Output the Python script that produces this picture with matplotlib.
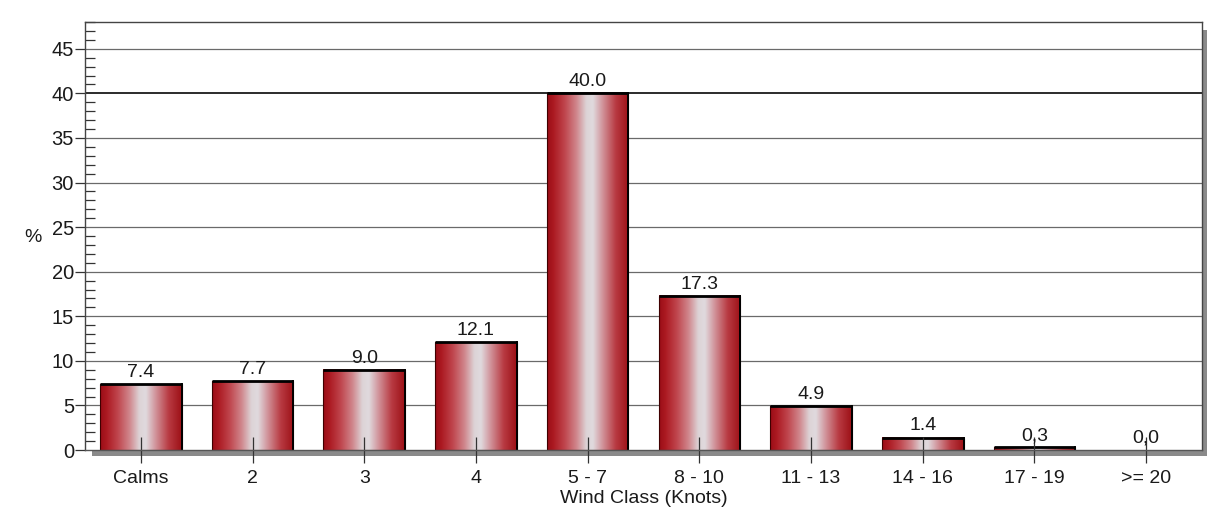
import numpy as np
import matplotlib
matplotlib.use("Agg")
import matplotlib.pyplot as plt
from matplotlib.colors import LinearSegmentedColormap
from matplotlib.patches import Rectangle
from matplotlib.ticker import MultipleLocator

plt.rcParams['font.family'] = ['Liberation Sans', 'DejaVu Sans']

categories = ["Calms", "2", "3", "4", "5 - 7", "8 - 10", "11 - 13", "14 - 16", "17 - 19", ">= 20"]
values = [7.4, 7.7, 9.0, 12.1, 40.0, 17.3, 4.9, 1.4, 0.3, 0.0]
value_labels = ["7.4", "7.7", "9.0", "12.1", "40.0", "17.3", "4.9", "1.4", "0,3", "0,0"]

W, H = 1212, 518
fig = plt.figure(figsize=(W / 100, H / 100), dpi=100)
fig.patch.set_facecolor("white")

L, R, T, B = 85, 1202, 22, 450
ax = fig.add_axes([L / W, 1 - B / H, (R - L) / W, (B - T) / H])
ax.set_facecolor("white")
ax.set_zorder(2)

# drop shadow of plot frame
shadow = Rectangle(((L + 7) / W, 1 - (B + 6) / H), (R + 5 - L - 7) / W, (B + 6 - T - 8) / H,
                   transform=fig.transFigure, facecolor="#8a8a8a", edgecolor="none", zorder=-5)
fig.patches.append(shadow)

x = np.arange(len(categories))
bw = 0.73
ax.set_xlim(-0.5, len(categories) - 0.5)
ax.set_ylim(0, 48)

# gridlines
for g in range(5, 50, 5):
    ax.axhline(g, color="#1a1a1a" if g == 40 else "#6a6a6a", lw=1.3 if g == 40 else 0.9, zorder=0.5)

cmap = LinearSegmentedColormap.from_list("barshade", [
    (0.0, "#9a0c16"),
    (0.08, "#ac1a22"),
    (0.22, "#c0474f"),
    (0.36, "#d0868c"),
    (0.48, "#ddd3d6"),
    (0.56, "#e0dade"),
    (0.68, "#d1939a"),
    (0.84, "#b83a42"),
    (1.0, "#9c1016"),
])
grad = np.linspace(0, 1, 256).reshape(1, -1)

for xi, v in zip(x, values):
    if v > 0:
        ax.imshow(grad, cmap=cmap, aspect="auto", extent=[xi - bw / 2, xi + bw / 2, 0, v],
                  zorder=1, interpolation="bicubic")
        ax.add_patch(Rectangle((xi - bw / 2, 0), bw, v, facecolor="none",
                               edgecolor="#400000", lw=0.8, zorder=1.2))
        ax.plot([xi - bw / 2, xi + bw / 2], [v, v], color="black", lw=2.0, zorder=1.3,
                solid_capstyle="butt")
        ax.plot([xi + bw / 2, xi + bw / 2], [0, v], color="black", lw=1.4, zorder=1.3)

for xi, v, lab in zip(x, values, value_labels):
    ax.text(xi, v + 0.35, lab, ha="center", va="bottom", fontsize=14, color="#1a1a1a", zorder=3)

ax.set_xticks(x)
ax.set_xticklabels(categories, fontsize=14, color="#1a1a1a")
ax.tick_params(axis="x", direction="inout", length=19, width=0.9, color="#333333", pad=5)

ax.yaxis.set_major_locator(MultipleLocator(5))
ax.yaxis.set_minor_locator(MultipleLocator(1))
ax.tick_params(axis="y", which="major", direction="out", length=7, width=0.9, color="#333333",
               labelsize=14.5, labelcolor="#1a1a1a", pad=1)
ax.tick_params(axis="y", which="minor", direction="in", length=7, width=0.9, color="#333333")

for s in ["left", "top", "right"]:
    ax.spines[s].set_color("#444444")
    ax.spines[s].set_linewidth(1.0)
ax.spines["bottom"].set_color("#555555")
ax.spines["bottom"].set_linewidth(1.0)

ax.set_xlabel("Wind Class (Knots)", fontsize=14, color="#1a1a1a", labelpad=2)
fig.text(33 / W, 1 - 238 / H, "%", fontsize=14, ha="center", va="center", color="#1a1a1a")

fig.savefig("out.png", dpi=100, facecolor="white")
